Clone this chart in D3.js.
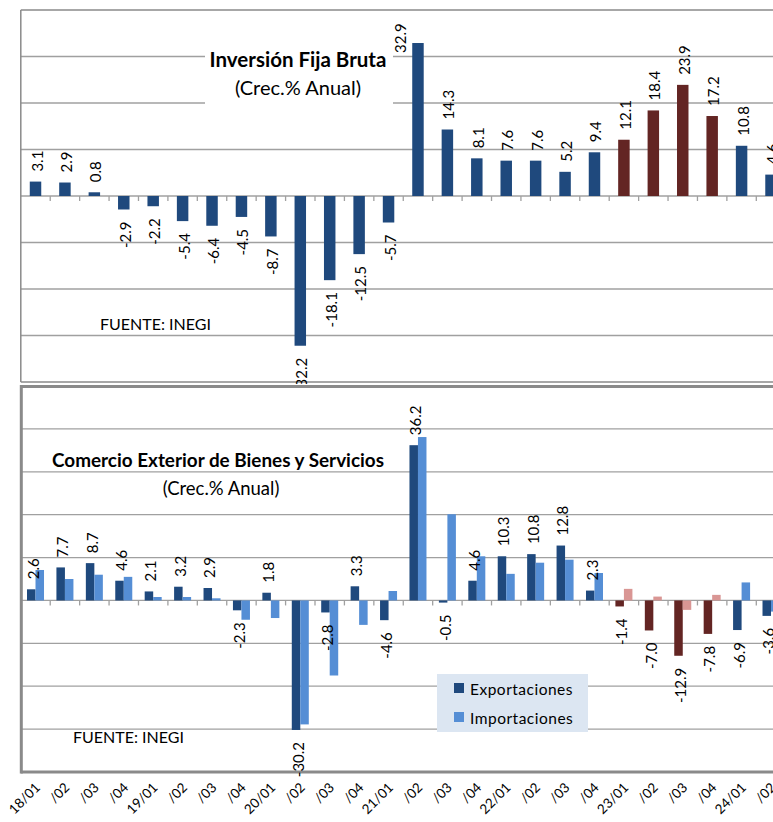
<!DOCTYPE html>
<html><head><meta charset="utf-8">
<script src="https://cdn.jsdelivr.net/npm/d3@7"></script>
<style>
html,body{margin:0;padding:0;background:#fff;overflow:hidden}
svg{display:block;font-family:Lato,"Open Sans",sans-serif}
</style></head><body>
<svg id="c" width="773" height="822"></svg>
<script>
// ---------- data ----------
const quarters = ["18/01","18/02","18/03","18/04","19/01","19/02","19/03","19/04",
  "20/01","20/02","20/03","20/04","21/01","21/02","21/03","21/04",
  "22/01","22/02","22/03","22/04","23/01","23/02","23/03","23/04","24/01","24/02"];
const tickLabels = ["18/01","/02","/03","/04","19/01","/02","/03","/04",
  "20/01","/02","/03","/04","21/01","/02","/03","/04",
  "22/01","/02","/03","/04","23/01","/02","/03","/04","24/01","/02"];
const inversion = [3.1,2.9,0.8,-2.9,-2.2,-5.4,-6.4,-4.5,-8.7,-32.2,-18.1,-12.5,-5.7,
  32.9,14.3,8.1,7.6,7.6,5.2,9.4,12.1,18.4,23.9,17.2,10.8,4.6];
const exportaciones = [2.6,7.7,8.7,4.6,2.1,3.2,2.9,-2.3,1.8,-30.2,-2.8,3.3,-4.6,
  36.2,-0.5,4.6,10.3,10.8,12.8,2.3,-1.4,-7.0,-12.9,-7.8,-6.9,-3.6];
const importaciones = [7.1,5.0,6.0,5.5,0.8,0.8,0.5,-4.5,-4.1,-28.9,-17.5,-5.7,2.2,
  38.1,20.1,10.3,6.2,8.8,9.5,6.4,2.7,0.9,-2.2,1.3,4.2,-2.6];
const highlightQuarters = ["23/01","23/02","23/03","23/04"];
const topGrid = [-30,-20,-10,0,10,20,30];
const botGrid = [-30,-20,-10,0,10,20,30,40];
const seriesNames = ["Exportaciones","Importaciones"];

// ---------- style ----------
const C = {dark:"#1F497D", light:"#558ED5", maroon:"#632523", pink:"#D99694",
  grid:"#A0A0A0", border:"#8A8A8A", text:"#000"};
const LABEL_FS = 15;

const svg = d3.select("#c");
const left = 20.8, step = 29.42, right = left + step*quarters.length;
const x = d3.scaleBand().domain(quarters).range([left,right]).padding(0);
const fmt = d3.formatLocale({decimal:".", thousands:",", grouping:[3], currency:["",""], minus:"-"}).format(".1f");
const isHi = q => highlightQuarters.includes(q);

function ticksAt(g, y0){
  g.selectAll("line.tk").data(quarters.slice(1)).join("line")
    .attr("x1",d=>x(d)).attr("x2",d=>x(d)).attr("y1",y0).attr("y2",y0+5)
    .attr("stroke",C.grid).attr("stroke-width",1.3);
}
function vLabel(g, cx, yEdge, v, plotTop){
  let tx = cx, ty, anchor = "start";
  if (v >= 0){ ty = yEdge - 10;
    const w = fmt(v).length*8.5;
    if (ty - w < plotTop){ tx = cx - 19; ty = yEdge + 10; }
  } else { ty = yEdge + 12; anchor = "end"; }
  g.append("text").attr("transform",`translate(${tx},${ty}) rotate(-90)`)
    .attr("text-anchor",anchor).attr("dominant-baseline","central")
    .attr("font-size",LABEL_FS).attr("fill",C.text).text(fmt(v));
}

// ================= TOP CHART =================
const gT = svg.append("g");
const yT = d3.scaleLinear().domain([-40,40]).range([382,10]);
const xb = d3.scaleBand().domain(["v"]).range([0,step]).paddingInner(0.61).paddingOuter(0.305);

gT.selectAll("line.grid").data(topGrid).join("line")
  .attr("x1",left).attr("x2",right).attr("y1",d=>yT(d)).attr("y2",d=>yT(d))
  .attr("stroke",C.grid).attr("stroke-width",1.3);
gT.append("line").attr("x1",left).attr("x2",right).attr("y1",yT(40)).attr("y2",yT(40)).attr("stroke",C.border).attr("stroke-width",1.5);
gT.append("line").attr("x1",left).attr("x2",right).attr("y1",yT(-40)).attr("y2",yT(-40)).attr("stroke",C.border).attr("stroke-width",1.5);
gT.append("line").attr("x1",left).attr("x2",left).attr("y1",yT(40)).attr("y2",yT(-40)).attr("stroke",C.border).attr("stroke-width",1.5);
ticksAt(gT, yT(0));

gT.append("rect").attr("x",205).attr("y",40).attr("width",188).attr("height",70).attr("fill","#fff");
gT.append("text").attr("x",298).attr("y",67).attr("text-anchor","middle")
  .attr("font-weight","bold").attr("font-size",20.5).text("Inversión Fija Bruta");
gT.append("text").attr("x",298).attr("y",95).attr("text-anchor","middle")
  .attr("font-size",20).text("(Crec.% Anual)");
gT.append("text").attr("x",100).attr("y",330).attr("font-size",16).text("FUENTE: INEGI");

gT.selectAll("rect.bar").data(quarters).join("rect")
  .attr("x",(q)=>x(q)+xb("v")).attr("width",xb.bandwidth())
  .attr("y",(q,i)=>yT(Math.max(0,inversion[i])))
  .attr("height",(q,i)=>Math.abs(yT(inversion[i])-yT(0)))
  .attr("fill",q=>isHi(q)?C.maroon:C.dark);
quarters.forEach((q,i)=>{
  const v = inversion[i];
  vLabel(gT, x(q)+xb("v")+xb.bandwidth()/2+1, yT(v), v, yT(40));
});

// ================= BOTTOM CHART =================
const gB = svg.append("g");
const yB = d3.scaleLinear().domain([-40,50]).range([772,386]);
const xs = d3.scaleBand().domain(["exp","imp"]).range([0,step]).paddingInner(0).paddingOuter(0.73);

gB.append("rect").attr("x",left-1).attr("y",384).attr("width",800).attr("height",392).attr("fill","#fff");
gB.selectAll("line.grid").data(botGrid).join("line")
  .attr("x1",left).attr("x2",right).attr("y1",d=>yB(d)).attr("y2",d=>yB(d))
  .attr("stroke",C.grid).attr("stroke-width",1.3);
ticksAt(gB, yB(0));

gB.append("text").attr("x",218).attr("y",467).attr("text-anchor","middle")
  .attr("font-weight","bold").attr("font-size",18.9).text("Comercio Exterior de Bienes y Servicios");
gB.append("text").attr("x",221).attr("y",495).attr("text-anchor","middle")
  .attr("font-size",18.5).text("(Crec.% Anual)");
gB.append("text").attr("x",73).attr("y",743).attr("font-size",16).text("FUENTE: INEGI");

const series = [
  {key:"exp", vals:exportaciones, col:C.dark, hcol:C.maroon},
  {key:"imp", vals:importaciones, col:C.light, hcol:C.pink}
];
series.forEach(s=>{
  gB.selectAll("rect.b"+s.key).data(quarters).join("rect")
    .attr("x",q=>x(q)+xs(s.key)).attr("width",xs.bandwidth())
    .attr("y",(q,i)=>yB(Math.max(0,s.vals[i])))
    .attr("height",(q,i)=>Math.max(1,Math.abs(yB(s.vals[i])-yB(0))))
    .attr("fill",q=>isHi(q)?s.hcol:s.col);
});

gB.append("line").attr("x1",left).attr("x2",right).attr("y1",386.5).attr("y2",386.5).attr("stroke",C.border).attr("stroke-width",3);
gB.append("line").attr("x1",left).attr("x2",right).attr("y1",772).attr("y2",772).attr("stroke",C.border).attr("stroke-width",3);
gB.append("line").attr("x1",left+0.5).attr("x2",left+0.5).attr("y1",385).attr("y2",773.5).attr("stroke",C.border).attr("stroke-width",3);

quarters.forEach((q,i)=>{
  const v = exportaciones[i];
  vLabel(gB, x(q)+xs("exp")+xs.bandwidth()/2+1.5, yB(v), v, 386);
});

const lg = gB.append("g");
lg.append("rect").attr("x",437).attr("y",674).attr("width",151).attr("height",58).attr("fill","#DCE6F2");
seriesNames.forEach((n,i)=>{
  lg.append("rect").attr("x",454).attr("y",683+i*29).attr("width",10).attr("height",10)
    .attr("fill",i===0?C.dark:C.light);
  lg.append("text").attr("x",470).attr("y",695+i*29).attr("font-size",15.5)
    .attr("letter-spacing",0.5).text(n);
});

gB.selectAll("text.xl").data(quarters).join("text")
  .attr("transform",(q)=>`translate(${x(q)+x.bandwidth()/2+3},786) rotate(-45)`)
  .attr("text-anchor","end").attr("dominant-baseline","middle")
  .attr("font-size",13.5).attr("fill",C.text).text((q,i)=>tickLabels[i]);
</script>
</body></html>
